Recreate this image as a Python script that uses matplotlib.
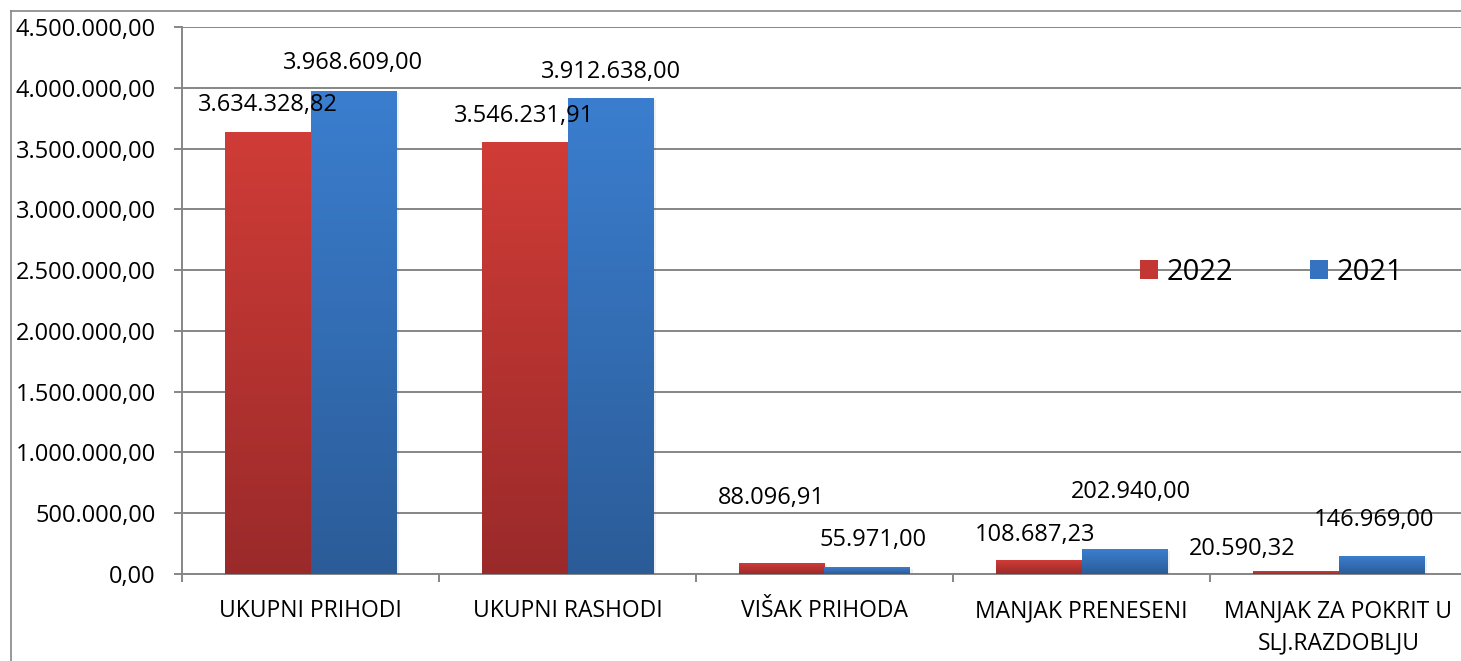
import numpy as np
import matplotlib
matplotlib.use("Agg")
import matplotlib.pyplot as plt
from matplotlib.colors import LinearSegmentedColormap
from matplotlib.patches import Patch
from matplotlib.lines import Line2D

plt.rcParams['font.family'] = ['Open Sans', 'DejaVu Sans']

# data
categories = ["UKUPNI PRIHODI", "UKUPNI RASHODI", "VIŠAK PRIHODA",
              "MANJAK PRENESENI", "MANJAK ZA POKRIT U\nSLJ.RAZDOBLJU"]
values_2022 = [3634328.82, 3546231.91, 88096.91, 108687.23, 20590.32]
values_2021 = [3968609.00, 3912638.00, 55971.00, 202940.00, 146969.00]
series_names = ["2022", "2021"]
y_ticks = [0, 500000, 1000000, 1500000, 2000000, 2500000, 3000000, 3500000, 4000000, 4500000]

# label nudges in pixels (Excel moved some labels to avoid overlaps)
offsets_2022 = [(0, 27), (0, 27), (-10, 65), (-3, 26), (-53, 22)]
offsets_2021 = [(0, 29), (0, 26), (6, 27), (6, 57), (-7, 36)]


def hr(v):
    s = f"{v:,.2f}"
    return s.replace(",", "X").replace(".", ",").replace("X", ".")


W, H = 1461, 661
fig = plt.figure(figsize=(W / 100, H / 100), dpi=100)
fig.patch.set_facecolor("white")

grey = "#868686"
# chart border (cropped on right and bottom)
fig.add_artist(Line2D([11 / W, 11 / W], [1 - 11 / H, 0], color=grey, lw=1.2))
fig.add_artist(Line2D([11 / W, 1], [1 - 11 / H, 1 - 11 / H], color=grey, lw=1.2))

cat_w = 257
ax = fig.add_axes([182 / W, 87 / H, 5 * cat_w / W, 547 / H])
x = np.arange(len(categories))
bw = 86 / cat_w

red_cmap = LinearSegmentedColormap.from_list("r", ["#9a2a2a", "#d03c37"])
blue_cmap = LinearSegmentedColormap.from_list("b", ["#2b5c98", "#3b7ecf"])

bars_22 = ax.bar(x - bw / 2, values_2022, bw, color="#c23733", zorder=3)
bars_21 = ax.bar(x + bw / 2, values_2021, bw, color="#3572c0", zorder=3)

grad = np.linspace(0, 1, 256).reshape(-1, 1)
for bars, cmap in [(bars_22, red_cmap), (bars_21, blue_cmap)]:
    for b in bars:
        bx, by, w, h = b.get_x(), b.get_y(), b.get_width(), b.get_height()
        # soft shadow
        ax.bar(bx + w / 2 + 0.01, h, w, bottom=-12000, color="black",
               alpha=0.06, zorder=2, linewidth=0)
        ax.imshow(grad, extent=[bx, bx + w, by, by + h], cmap=cmap,
                  aspect="auto", origin="lower", zorder=3)
        b.set_visible(False)

for bars, vals, offs in [(bars_22, values_2022, offsets_2022),
                         (bars_21, values_2021, offsets_2021)]:
    for b, v, (dx, dy) in zip(bars, vals, offs):
        ax.annotate(hr(v), (b.get_x() + b.get_width() / 2, b.get_height()),
                    xytext=(dx, dy), textcoords="offset pixels",
                    ha="center", va="center", fontsize=17, zorder=5)

ax.set_xlim(-0.5, 4.5)
ax.set_ylim(0, 4500000)
ax.set_yticks(y_ticks)
ax.set_yticklabels([hr(t) for t in y_ticks], fontsize=17)
ax.grid(axis="y", color=grey, lw=1.4, zorder=0)
ax.set_axisbelow(True)

ax.set_xticks(np.arange(-0.5, 5, 1))
ax.set_xticklabels([])
ax.set_xticks(x, minor=True)
ax.set_xticklabels(categories, minor=True, fontsize=16.5, linespacing=1.45)
ax.tick_params(axis="x", which="minor", length=0, pad=18)
ax.tick_params(axis="x", which="major", length=6, color=grey, width=1.4)
ax.tick_params(axis="y", length=6, color=grey, width=1.4, pad=13)

for s in ["top", "right"]:
    ax.spines[s].set_visible(False)
for s in ["left", "bottom"]:
    ax.spines[s].set_color(grey)
    ax.spines[s].set_linewidth(1.4)

handles = [Patch(facecolor="#c23733"), Patch(facecolor="#3572c0")]
fig.legend(handles, series_names, loc="center left",
           bbox_to_anchor=(1114 / W, 1 - 272 / H), ncol=2, frameon=False,
           fontsize=21, handlelength=0.62, handleheight=0.62,
           handletextpad=0.3, columnspacing=2.6)

fig.savefig("out.png", dpi=100, facecolor="white")
